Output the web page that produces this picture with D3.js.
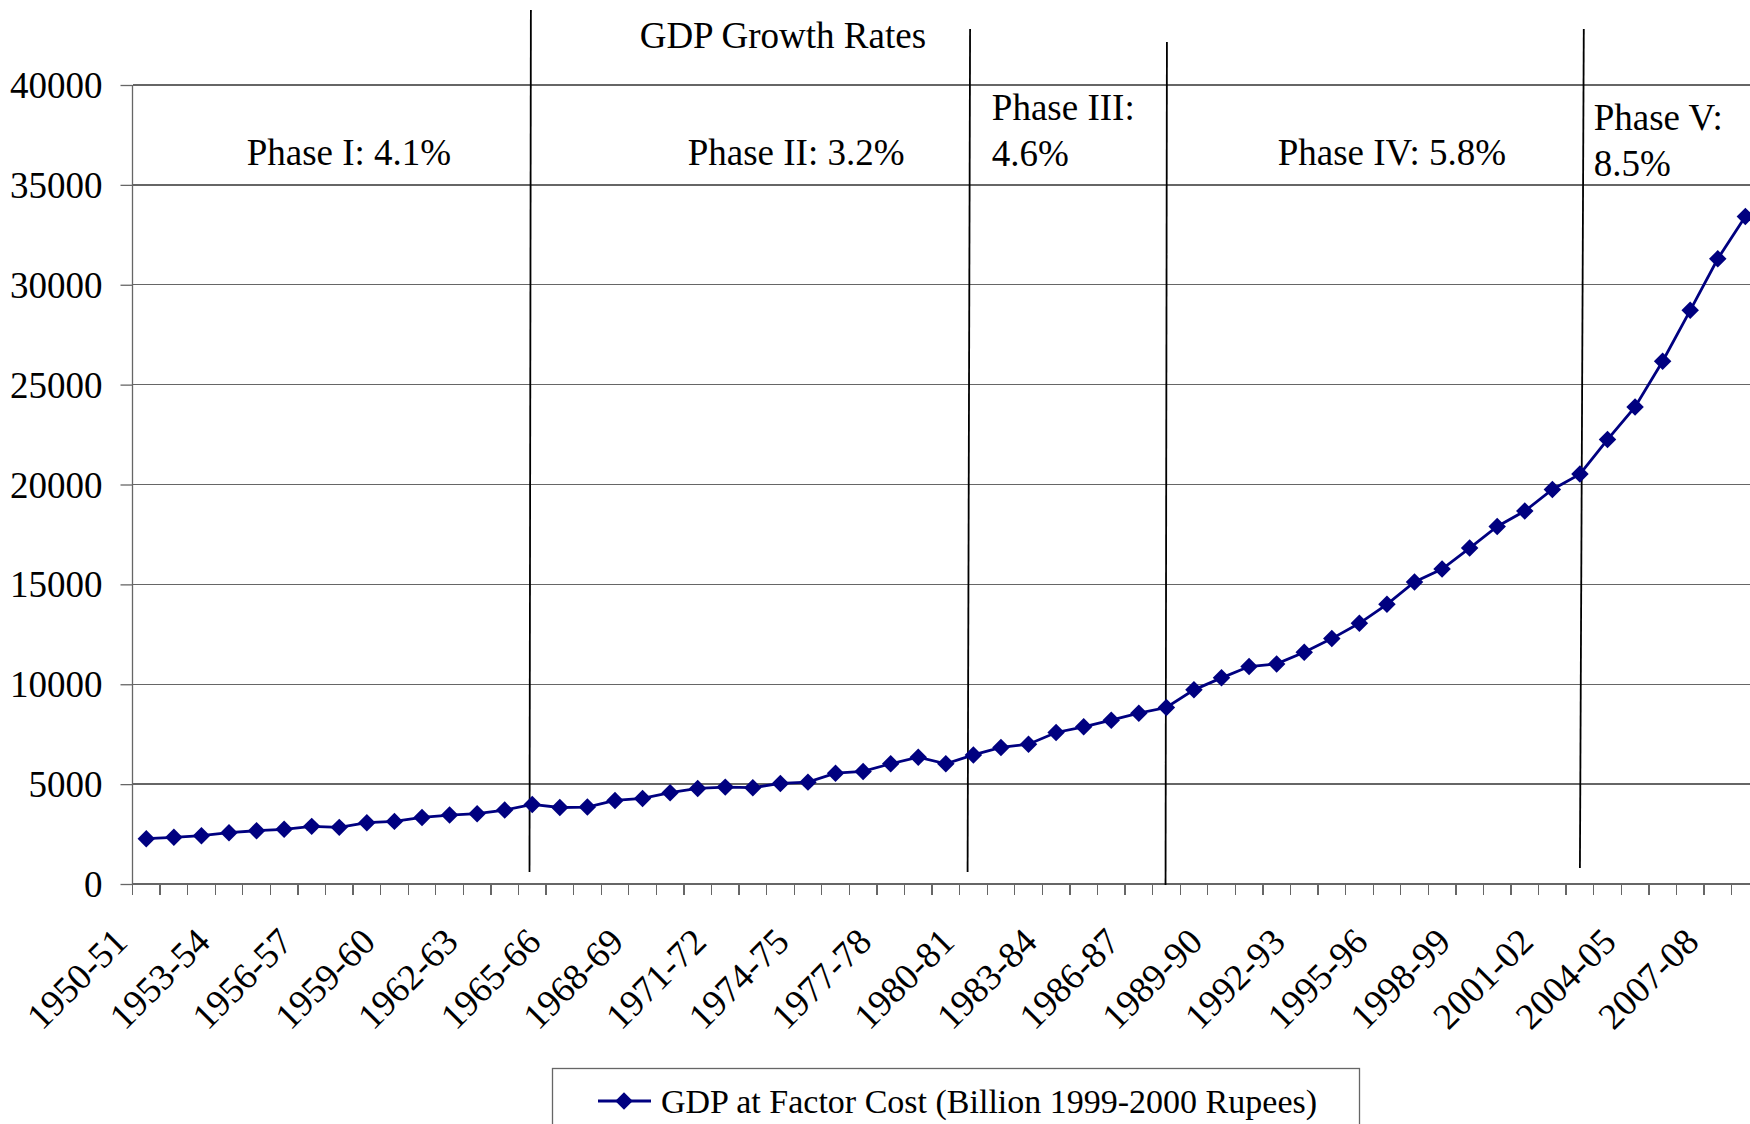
<!DOCTYPE html>
<html>
<head>
<meta charset="utf-8">
<script src="https://cdn.jsdelivr.net/npm/d3@7"></script>
<style>
  html, body { margin: 0; padding: 0; background: #fff; overflow: hidden; }
  svg { display: block; font-family: "Liberation Serif", "Times New Roman", serif; }
</style>
</head>
<body>
<svg id="chart" width="1750" height="1124"></svg>
<script>
// ---------------- DATA ----------------
const categories = [
  "1950-51","1951-52","1952-53","1953-54","1954-55","1955-56","1956-57","1957-58","1958-59","1959-60",
  "1960-61","1961-62","1962-63","1963-64","1964-65","1965-66","1966-67","1967-68","1968-69","1969-70",
  "1970-71","1971-72","1972-73","1973-74","1974-75","1975-76","1976-77","1977-78","1978-79","1979-80",
  "1980-81","1981-82","1982-83","1983-84","1984-85","1985-86","1986-87","1987-88","1988-89","1989-90",
  "1990-91","1991-92","1992-93","1993-94","1994-95","1995-96","1996-97","1997-98","1998-99","1999-00",
  "2000-01","2001-02","2002-03","2003-04","2004-05","2005-06","2006-07","2007-08","2008-09"
];
const gdpValues = [
  2270, 2335, 2418, 2567, 2668, 2735, 2885, 2835, 3068, 3135,
  3335, 3450, 3518, 3700, 3985, 3830, 3850, 4185, 4285, 4570,
  4785, 4850, 4820, 5035, 5100, 5550, 5635, 6020, 6350, 6020,
  6460, 6835, 7000, 7585, 7870, 8200, 8550, 8835, 9720, 10320,
  10885, 11018, 11600, 12285, 13050, 14000, 15120, 15770, 16820, 17900,
  18670, 19750, 20520, 22250, 23885, 26170, 28720, 31300, 33420
];
const yTickValues = [0, 5000, 10000, 15000, 20000, 25000, 30000, 35000, 40000];
const xLabelEvery = 3;
const seriesName = "GDP at Factor Cost (Billion 1999-2000 Rupees)";
const chartTitle = "GDP Growth Rates";
// phase boundary lines (category index position, value)
const phaseLines = [
  { i0: 13.95, v0: 43755, i1: 13.9,  v1: 600 },
  { i0: 29.88, v0: 42800, i1: 29.79, v1: 600 },
  { i0: 37.02, v0: 42150, i1: 36.97, v1: -50 },
  { i0: 52.14, v0: 42800, i1: 52.0,  v1: 800 }
];
// phase labels (category index position, baseline value)
const phaseLabels = [
  { lines: ["Phase I: 4.1%"],  i: 7.35,  v: [36000], anchor: "middle" },
  { lines: ["Phase II: 3.2%"], i: 23.57, v: [36000], anchor: "middle" },
  { lines: ["Phase III:", "4.6%"], i: 30.67, v: [38250, 35950], anchor: "start" },
  { lines: ["Phase IV: 5.8%"], i: 45.18, v: [36000], anchor: "middle" },
  { lines: ["Phase V:", "8.5%"], i: 52.5, v: [37750, 35450], anchor: "start" }
];
const titlePos = { i: 23.09, v: 41850 };

// ---------------- LAYOUT ----------------
(function () {
const svg = d3.select("#chart");
const W = 1750, H = 1124;
const plotLeft = 132.5, bandW = 27.57;
const plotTop = 85, plotBottom = 884;
const plotRight = plotLeft + categories.length * bandW;
const fontSize = 37;
const navy = "#000080";
const gridColor = "#666666";

svg.append("rect").attr("width", W).attr("height", H).attr("fill", "#fff");

const x = d3.scaleBand().domain(categories).range([plotLeft, plotRight]).paddingInner(0).paddingOuter(0);
const y = d3.scaleLinear().domain([0, 40000]).range([plotBottom, plotTop]);
const xi = d3.scaleLinear().domain([0, 1]).range([plotLeft + bandW / 2, plotLeft + bandW * 1.5]);

// gridlines
svg.append("g").selectAll("line").data(yTickValues.filter(d => d > 0)).join("line")
  .attr("x1", plotLeft).attr("x2", plotRight)
  .attr("y1", d => y(d)).attr("y2", d => y(d))
  .attr("stroke", gridColor).attr("stroke-width", 1.3).attr("shape-rendering", "crispEdges");

// y axis
const yAxis = svg.append("g").attr("transform", `translate(${plotLeft},0)`)
  .call(d3.axisLeft(y).tickValues(yTickValues).tickSize(12).tickPadding(18).tickFormat(d3.format("d")));
yAxis.select(".domain").attr("stroke", gridColor).attr("stroke-width", 1.3)
  .attr("d", `M0,${plotBottom}V${plotTop}`);
yAxis.selectAll(".tick line").attr("stroke", gridColor).attr("stroke-width", 1.3);
yAxis.selectAll(".tick text").attr("font-size", fontSize).attr("fill", "#000")
  .attr("font-family", "Liberation Serif").attr("dy", "0.34em");

// x axis line
svg.append("line").attr("x1", plotLeft).attr("x2", plotRight).attr("y1", plotBottom).attr("y2", plotBottom)
  .attr("stroke", gridColor).attr("stroke-width", 1.3).attr("shape-rendering", "crispEdges");
// x ticks at category boundaries
const boundaries = categories.map(c => x(c)).concat([plotRight]);
svg.append("g").selectAll("line").data(boundaries).join("line")
  .attr("x1", d => d).attr("x2", d => d).attr("y1", plotBottom).attr("y2", plotBottom + 11)
  .attr("stroke", gridColor).attr("stroke-width", 1.3).attr("shape-rendering", "crispEdges");
// x labels
svg.append("g").selectAll("text").data(categories.filter((c, k) => k % xLabelEvery === 0)).join("text")
  .attr("transform", c => `translate(${x(c) + bandW / 2 - 17},${plotBottom + 60}) rotate(-45)`)
  .attr("text-anchor", "end").attr("font-size", fontSize).attr("fill", "#000")
  .text(c => c);

// phase lines
svg.append("g").selectAll("line").data(phaseLines).join("line")
  .attr("x1", d => xi(d.i0)).attr("y1", d => y(d.v0))
  .attr("x2", d => xi(d.i1)).attr("y2", d => y(d.v1))
  .attr("stroke", "#000").attr("stroke-width", 1.8);

// series line
const pts = categories.map((c, k) => ({ c, v: gdpValues[k] }));
svg.append("path").datum(pts)
  .attr("d", d3.line().x(d => x(d.c) + bandW / 2).y(d => y(d.v)))
  .attr("fill", "none").attr("stroke", navy).attr("stroke-width", 2.8);
const diamond = d3.symbol().type(d3.symbolDiamond2).size(195);
svg.append("g").selectAll("path").data(pts).join("path")
  .attr("transform", d => `translate(${x(d.c) + bandW / 2},${y(d.v)})`)
  .attr("d", diamond).attr("fill", navy);

// title
svg.append("text").attr("x", xi(titlePos.i)).attr("y", y(titlePos.v))
  .attr("text-anchor", "middle").attr("font-size", fontSize).attr("fill", "#000").text(chartTitle);

// phase labels
phaseLabels.forEach(p => {
  p.lines.forEach((ln, k) => {
    svg.append("text").attr("x", xi(p.i)).attr("y", y(p.v[k]))
      .attr("text-anchor", p.anchor).attr("font-size", fontSize).attr("fill", "#000").text(ln);
  });
});

// legend
const lg = svg.append("g");
lg.append("rect").attr("x", 552.5).attr("y", 1068.5).attr("width", 807).attr("height", 90)
  .attr("fill", "#fff").attr("stroke", gridColor).attr("stroke-width", 1.3);
lg.append("line").attr("x1", 598).attr("x2", 651).attr("y1", 1101).attr("y2", 1101)
  .attr("stroke", navy).attr("stroke-width", 2.8);
lg.append("path").attr("transform", "translate(624,1101)").attr("d", diamond).attr("fill", navy);
lg.append("text").attr("x", 661).attr("y", 1113).attr("font-size", 34).attr("fill", "#000").text(seriesName);
})();
</script>
</body>
</html>
